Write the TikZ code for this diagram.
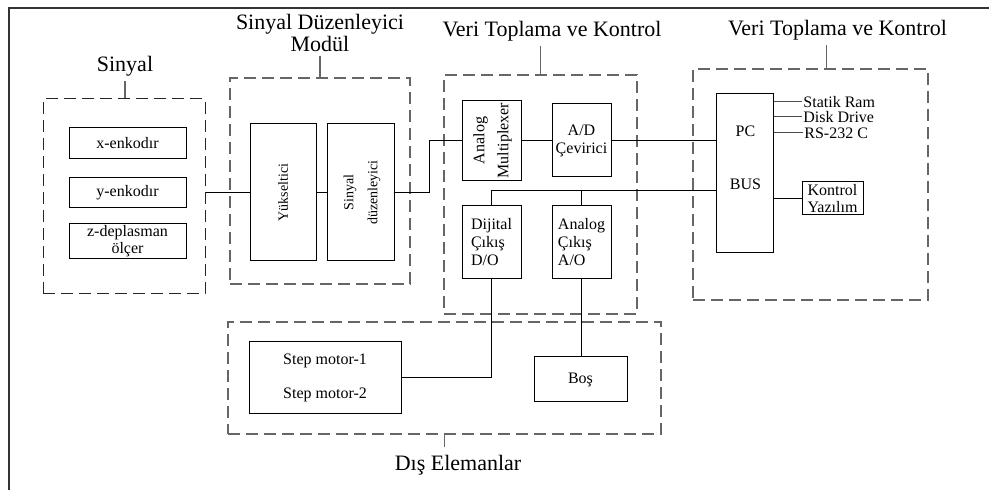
\documentclass[tikz,border=0pt]{standalone}
\usepackage{fontspec}
\setmainfont{Liberation Serif}
\usetikzlibrary{calc}
\usetikzlibrary{positioning}

\begin{document}
\begin{tikzpicture}[x=0.5pt,y=-0.5pt]
\tikzstyle{group}=[draw=black!60, dash pattern=on 6pt off 3pt, line width=0.6pt, 
inner sep=0pt]
\tikzstyle{block}=[draw, line width=0.5pt, inner sep=1pt, 
font=\fontsize{8}{9.5}\selectfont]
\tikzstyle{title}=[anchor=base, inner sep=0pt, font=\fontsize{11}{10}\selectfont]
\tikzstyle{leader}=[draw=black!60, line width=0.6pt, shorten <=2pt]
\tikzstyle{port}=[anchor=west, inner sep=0.5pt, font=\fontsize{8}{9}\selectfont]
	\useasboundingbox (0,0) rectangle (989,490);
	\draw [line width=0.6pt, black!80] (9,490) -- (9,8) -- (989,8);
	
	% groups
	\node [group, draw=black!85, line width=0.5pt, minimum width = 81pt, 
	minimum height = 97.5pt] (S) at (124,196.5) {};
	\node [group, minimum width = 90pt, minimum height = 103pt] (SDM) at 
	(320,181) {};
	\node [group, minimum width = 96.5pt, minimum height = 119.5pt] (VTK) at 
	(540.5,194.5) {};
	\node [group, minimum width = 117.5pt, minimum height = 115.5pt] (PCG) at 
	(810.5,184.5) {};
	\node [group, minimum width = 216.5pt, minimum height = 56pt] (DE) at 
	(444.5,378) {};
	
	% titles
	\node [title] (ST) at (125,72) {Sinyal};
	\node [title, anchor=center, align=center] (SDMT) at (320,32.5) 
	{Sinyal Düzenleyici\\Modül};
	\node [title] (VTKT) at (552,37) {Veri Toplama ve Kontrol};
	\node [title] (PCGT) at (837.5,36) {Veri Toplama ve Kontrol};
	\node [title] (DET) at (458,471) {Dış Elemanlar};
	\draw [leader] (ST.south) -- (ST.south |- S.north);
	\draw [leader] (SDMT.south) -- (SDMT.south |- SDM.north);
	\draw [leader] (VTK.north |- VTKT.south) -- (VTK.north);
	\draw [leader] (PCG.82 |- PCGT.south) -- (PCG.82);
	\draw [leader, shorten <=0pt, shorten >=4pt] (DE.south) -- 
	(DE.south |- DET.north);
	
	% sensors
	\node [block, minimum width = 58.5pt, minimum height = 15.5pt] (xenc) at 
	(127.5,143.5) {x-enkodır};
	\node [block, minimum width = 58.5pt, minimum height = 15pt] (yenc) at 
	(127.5,192.5) {y-enkodır};
	\node [block, minimum width = 58.5pt, minimum height = 15pt, align=center, 
	font=\fontsize{8}{6}\selectfont] (zdep) at (127.5,241) 
	{z-deplasman\\ölçer};
	
	% conditioning
	\node [block, minimum width = 33pt, minimum height = 68.5pt, 
	font=\fontsize{7}{12}\selectfont] (yuk) at (283,192.5) 
	{\rotatebox{90}{Yükseltici}};
	\node [block, minimum width = 33.5pt, minimum height = 68.5pt, 
	font=\fontsize{7}{12}\selectfont] (sd) at (360.5,192.5) 
	{\rotatebox{90}{\begin{tabular}{@{}c@{}}Sinyal\\düzenleyici\end{tabular}}};
	
	% data acquisition
	\node [block, minimum width = 29.5pt, minimum height = 36.5pt, 
	font=\fontsize{8}{12}\selectfont] (mux) at (491.5,140.5) 
	{\rotatebox{90}{\begin{tabular}{@{}c@{}}Analog\\Multiplexer\end{tabular}}};
	\node [block, minimum width = 29.5pt, minimum height = 36.5pt, align=center, 
	font=\fontsize{8}{9}\selectfont] (ad) at (581.5,140.5) {A/D\\Çevirici};
	\node [block, minimum width = 29.5pt, minimum height = 36.5pt, align=left, 
	font=\fontsize{8}{9}\selectfont] (dij) at (491.5,242.5) 
	{Dijital\\Çıkış\\D/O};
	\node [block, minimum width = 29.5pt, minimum height = 36.5pt, align=left, 
	font=\fontsize{8}{9}\selectfont] (ano) at (581.5,242.5) 
	{Analog\\Çıkış\\A/O};
	
	% pc
	\node [block, minimum width = 28.5pt, minimum height = 79.5pt] (pc) at 
	(744.5,173.5) {};
	\node [inner sep=0pt, font=\fontsize{8}{9}\selectfont] (pctxt) at 
	(745.5,131) {PC};
	\node [inner sep=0pt, font=\fontsize{8}{9}\selectfont] (bustxt) at 
	(745.5,184) {BUS};
	\node [port] (ram) at (802,102) {Statik Ram};
	\node [port] (disk) at (802,117) {Disk Drive};
	\node [port] (rs) at (803,133) {RS-232 C};
	\node [block, minimum width = 30.5pt, minimum height = 16.5pt, 
	inner sep=0.5pt, align=center, font=\fontsize{8}{8.5}\selectfont] (ky) at 
	(832.5,198.5) {Kontrol\\Yazılım};
	
	% outputs
	\node [block, minimum width = 76pt, minimum height = 36pt, align=center, 
	font=\fontsize{8}{17}\selectfont] (step) at (325,378) 
	{Step motor-1\\Step motor-2};
	\node [block, minimum width = 46.5pt, minimum height = 22.5pt] (bos) at 
	(580.5,379.5) {Boş};
	
	% wires
	\coordinate (bus) at (pc.west |- 0,191);
	\draw [line width=0.5pt] (S.east |- yuk.west) -- (yuk.west);
	\draw [line width=0.5pt] (yuk.east) -- (sd.west);
	\draw [line width=0.5pt] (sd.east) -- ++(35,0) |- (mux.west);
	\draw [line width=0.5pt] (mux.east) -- (ad.west);
	\draw [line width=0.5pt] (ad.east) -- (ad.east -| pc.west);
	\draw [line width=0.5pt] (dij.north) |- (bus);
	\draw [line width=0.5pt] (ano.north) -- (ano.north |- bus);
	\draw [line width=0.5pt] (dij.south) |- (step.east);
	\draw [line width=0.5pt] (ano.south) -- (ano.south |- bos.north);
	\draw [line width=0.5pt, black!70] (pc.east |- ram.west) -- (ram.west);
	\draw [line width=0.5pt, black!70] (pc.east |- disk.west) -- (disk.west);
	\draw [line width=0.5pt, black!70] (pc.east |- rs.west) -- (rs.west);
	\draw [line width=0.5pt] (pc.east |- ky.west) -- (ky.west);
\end{tikzpicture}
\end{document}
